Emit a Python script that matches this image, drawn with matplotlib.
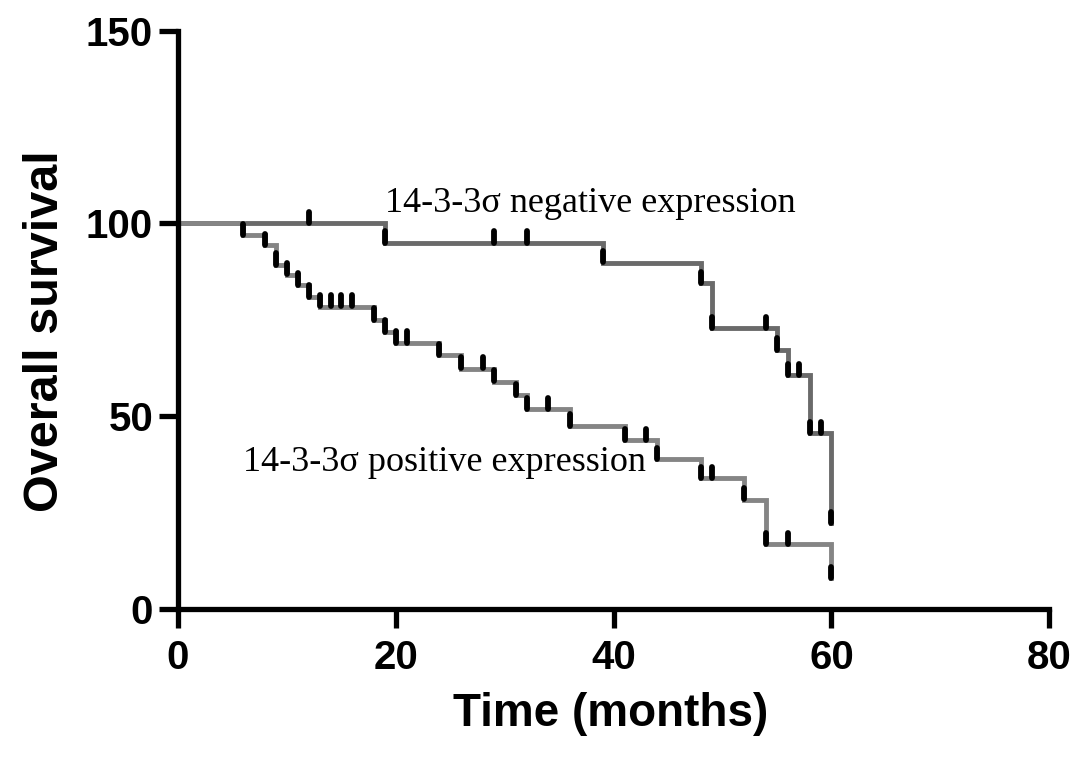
import numpy as np
import matplotlib
matplotlib.use("Agg")
import matplotlib.pyplot as plt

############################
#% DATA
############################
# 14-3-3 sigma negative expression
neg_times = [0, 19, 39, 48, 49, 55, 56, 58, 60]
neg_surv = [100, 94.9, 89.8, 84.4, 72.7, 67.1, 60.6, 45.5, 22.1]
neg_censor = [12, 19, 29, 32, 39, 48, 49, 54, 55, 56, 57, 58, 59, 60]

# 14-3-3 sigma positive expression
pos_times = [0, 6, 8, 9, 10, 11, 12, 13, 18, 19, 20, 24, 26, 29, 31, 32,
             36, 41, 44, 48, 52, 54, 60]
pos_surv = [100, 96.9, 94.3, 89.2, 86.7, 84.0, 80.9, 78.4, 74.9, 71.8, 69.0,
            65.8, 62.3, 58.9, 55.4, 51.7, 47.4, 43.7, 38.7, 33.8, 28.3, 16.7, 7.8]
pos_censor = [6, 8, 9, 10, 11, 12, 13, 14, 15, 16, 18, 19, 20, 21, 24, 26, 28,
              29, 31, 32, 34, 36, 41, 43, 44, 48, 49, 52, 54, 56, 60]

x_ticks = [0, 20, 40, 60, 80]
y_ticks = [0, 50, 100, 150]

neg_label = "14-3-3\u03c3 negative expression"
pos_label = "14-3-3\u03c3 positive expression"

############################
#% PLOT SETTINGS
############################
SANS = ['Liberation Sans', 'DejaVu Sans']
SERIF = ['Liberation Serif', 'DejaVu Serif']
LINEWIDTH = 3.8

plt.rc('font', family=SANS, weight='bold')
plt.rc('axes', linewidth=LINEWIDTH)
plt.rc('xtick', labelsize=29)
plt.rc('ytick', labelsize=29)


def surv_at(times, surv, t):
    """value of the (right-continuous) KM step function at time t"""
    idx = np.searchsorted(times, t, side='right') - 1
    return np.asarray(surv)[idx]


fig = plt.figure(figsize=(10.87, 7.62), dpi=100)
ax = fig.add_axes([0.1638, 0.2014, 0.8015, 0.7583])

for times, surv, cens, col in [(neg_times, neg_surv, neg_censor, '#6a6a6a'),
                               (pos_times, pos_surv, pos_censor, '#858585')]:
    ax.step(times, surv, where='post', color=col, linewidth=3.5,
            solid_joinstyle='miter', clip_on=False, zorder=2)
    cy = surv_at(times, surv, cens)
    ax.vlines(cens, cy + 0.05, cy + 3.0, color='black', linewidth=4.2,
              capstyle='round', zorder=3, clip_on=False)

ax.text(19.0, 103.0, neg_label, family=SERIF, weight='normal', fontsize=26,
        ha='left', va='baseline')
ax.text(6.0, 35.7, pos_label, family=SERIF, weight='normal', fontsize=26,
        ha='left', va='baseline')

ax.set_xlim(0, 80)
ax.set_ylim(0, 150)
ax.set_xticks(x_ticks)
ax.set_yticks(y_ticks)
ax.spines['top'].set_visible(False)
ax.spines['right'].set_visible(False)
ax.tick_params(direction='out', length=14, width=LINEWIDTH)
ax.tick_params(axis='x', pad=8)
ax.tick_params(axis='y', pad=4)

ax.set_xlabel("Time (months)", fontsize=33, fontweight='bold')
ax.set_ylabel("Overall survival", fontsize=35, fontweight='bold')
ax.xaxis.set_label_coords(0.496, -0.144)
ax.yaxis.set_label_coords(-0.126, 0.48)

fig.savefig("out.png", dpi=100)
